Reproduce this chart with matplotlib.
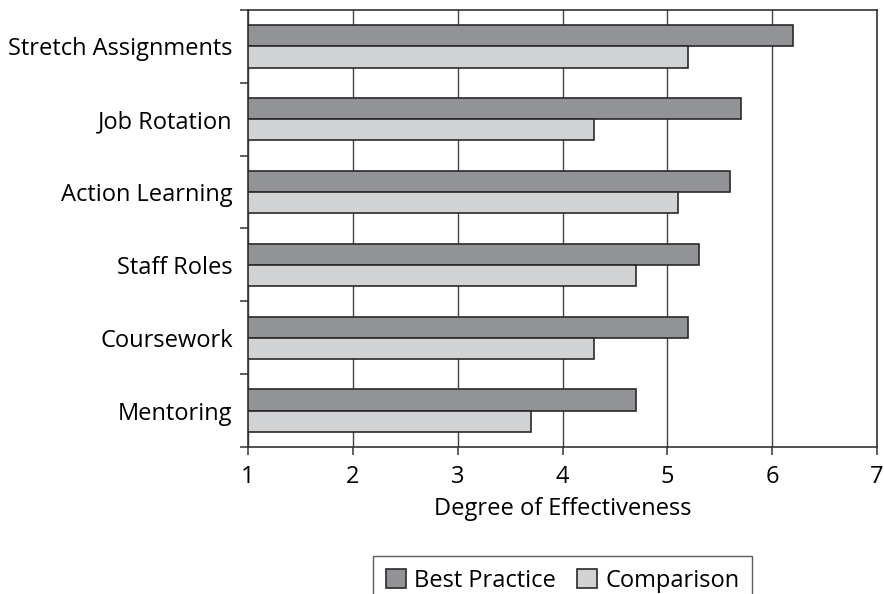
import matplotlib.pyplot as plt
import numpy as np

categories = ["Stretch Assignments", "Job Rotation", "Action Learning",
              "Staff Roles", "Coursework", "Mentoring"]
best_practice = [6.2, 5.7, 5.6, 5.3, 5.2, 4.7]
comparison = [5.2, 4.3, 5.1, 4.7, 4.3, 3.7]

plt.rcParams['font.family'] = ['Open Sans', 'DejaVu Sans']
fs = 17

fig = plt.figure(figsize=(8.84, 5.94), dpi=100)
ax = fig.add_axes([248/884, 1-447/594, (877-248)/884, (447-10)/594])

y = np.arange(len(categories))
h = 0.29
ax.barh(y - h/2, np.array(best_practice) - 1, left=1, height=h, color='#929396',
        edgecolor='#2a2a2a', linewidth=1.2, label='Best Practice', zorder=3)
ax.barh(y + h/2, np.array(comparison) - 1, left=1, height=h, color='#d2d3d5',
        edgecolor='#2a2a2a', linewidth=1.2, label='Comparison', zorder=3)

ax.set_xlim(1, 7)
ax.set_ylim(len(categories) - 0.5, -0.5)
ax.set_xticks(range(1, 8))
ax.set_yticks(y)
ax.set_yticklabels(categories)
ax.set_yticks(np.arange(-0.5, len(categories)), minor=True)
ax.tick_params(axis='y', which='major', length=0, pad=11, labelsize=fs)
ax.tick_params(axis='y', which='minor', length=6, width=1.1, color='#333333')
ax.tick_params(axis='x', length=6, width=1.1, color='#333333', labelsize=fs, pad=7)
ax.grid(axis='x', color='#444444', linewidth=1.0, zorder=0)
for s in ax.spines.values():
    s.set_color('#333333')
    s.set_linewidth(1.2)
ax.set_xlabel("Degree of Effectiveness", fontsize=fs, labelpad=6)

fig.legend(loc='upper center', bbox_to_anchor=(562.5/884, 1-556/594), ncol=2,
           fontsize=fs, frameon=True, fancybox=False, edgecolor='#333333',
           handlelength=0.85, handleheight=0.85, handletextpad=0.35, columnspacing=0.9,
           borderpad=0.55, borderaxespad=0)

fig.savefig("out.png", dpi=100)
